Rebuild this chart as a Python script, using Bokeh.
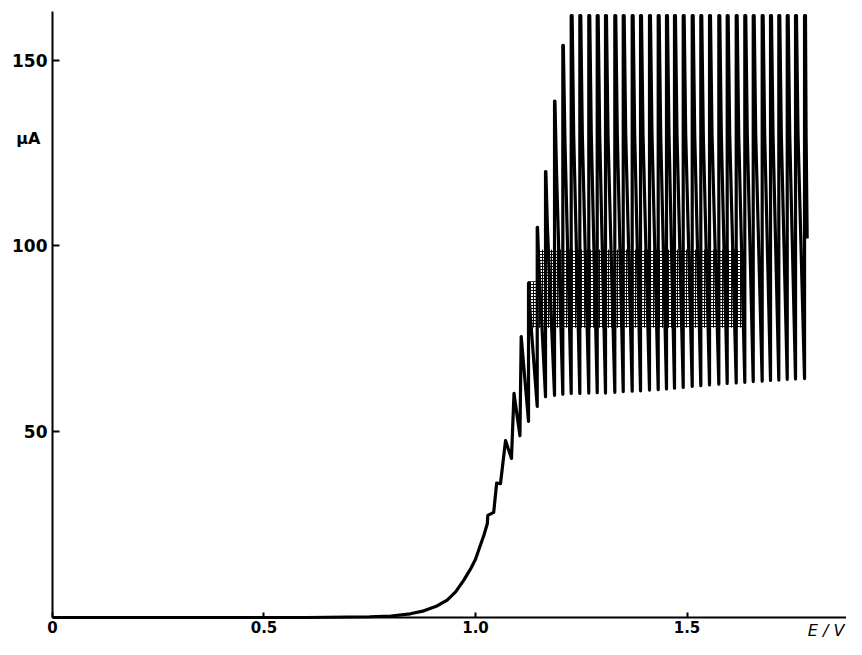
from bokeh.plotting import figure
from bokeh.models import Range1d, FixedTicker, Label
from bokeh.embed import file_html
from bokeh.resources import INLINE

# ---- data (E in V, I in uA) ----
onset_E = [0.0, 0.10, 0.20, 0.40, 0.60, 0.75, 0.80, 0.846, 0.878, 0.909, 0.933, 0.953,
           0.972, 0.988, 1.000, 1.008, 1.020, 1.028, 1.029, 1.043, 1.050, 1.059, 1.071,
           1.085, 1.091, 1.105, 1.108]
onset_I = [0, 0, 0, 0, 0, 0.2, 0.4, 1.0, 1.8, 3.1, 4.7, 6.9,
           10.0, 13.0, 15.7, 18.3, 22.2, 25.3, 27.5, 28.3, 36.2, 36.0, 47.6,
           42.8, 60.3, 48.9, 75.6]

# oscillation region: for each cycle the potential of the sharp rise, the
# current at the trough before it, the spike top, where the top ends, and a
# knee on the falling branch
rise_E = [1.1253, 1.1459, 1.1655, 1.1868, 1.2064, 1.2262, 1.2466, 1.2678, 1.2877,
          1.3073, 1.3293, 1.3492, 1.3704, 1.3901, 1.4113, 1.4319, 1.4515, 1.4704,
          1.4910, 1.5123, 1.5326, 1.5532, 1.5752, 1.5950, 1.6163, 1.6366, 1.6565,
          1.6777, 1.6974, 1.7170, 1.7369, 1.7565, 1.7778]
fall_E = [1.1258, 1.1466, 1.1663, 1.1878, 1.2076, 1.2284, 1.2488, 1.2700, 1.2899,
          1.3095, 1.3315, 1.3514, 1.3726, 1.3923, 1.4135, 1.4341, 1.4537, 1.4726,
          1.4932, 1.5145, 1.5348, 1.5554, 1.5774, 1.5972, 1.6185, 1.6388, 1.6587,
          1.6799, 1.6996, 1.7192, 1.7391, 1.7587, 1.7800]
knee_E = [1.1290, 1.1500, 1.1700, 1.1915, 1.2115, 1.2321, 1.2525, 1.2737, 1.2936,
          1.3132, 1.3352, 1.3551, 1.3763, 1.3960, 1.4172, 1.4378, 1.4574, 1.4763,
          1.4969, 1.5182, 1.5385, 1.5591, 1.5811, 1.6009, 1.6222, 1.6425, 1.6624,
          1.6836, 1.7033, 1.7229, 1.7428, 1.7624, 1.7815]
trough_I = [52.8, 56.8, 59.4, 59.8, 60.1, 60.3, 60.3, 60.4, 60.5, 60.4, 60.6, 60.8,
            60.9, 61.0, 61.2, 61.3, 61.5, 61.7, 61.9, 62.2, 62.4, 62.6, 62.8, 63.0,
            63.1, 63.3, 63.5, 63.6, 63.8, 63.9, 64.1, 64.2, 64.3]
peak_I = [90, 105, 120, 139, 154, 162, 162, 162, 162, 162, 162, 162, 162, 162, 162,
          162, 162, 162, 162, 162, 162, 162, 162, 162, 162, 162, 162, 162, 162, 162,
          162, 162, 162]
knee_I = [82, 94, 105, 120, 128, 130, 130, 130, 130, 130, 130, 130, 130, 130, 130,
          130, 130, 130, 130, 130, 130, 130, 130, 130, 130, 130, 130, 130, 130, 130,
          130, 130, 130]
end_E = [1.7840]
end_I = [102]

# densely written (grey) band of the recorder trace
band_left = [1.124, 1.145]
band_right = [1.145, 1.630]
band_bottom = [78, 78]
band_top = [90.5, 99]

x_ticks = [0, 0.5, 1.0, 1.5]
x_tick_labels = {0: "0", 0.5: "0.5", 1: "1.0", 1.5: "1.5"}
y_ticks = [50, 100, 150]

# ---- build trace ----
E = list(onset_E)
I = list(onset_I)
for re_, fe, ke, tI, pI, kI in zip(rise_E, fall_E, knee_E, trough_I, peak_I, knee_I):
    E += [re_, re_, fe, ke]
    I += [tI, pI, pI, kI]
E += end_E
I += end_I

p = figure(width=846, height=639, x_range=Range1d(-0.1229, 1.877),
           y_range=Range1d(-5.92, 166.04), output_backend="svg",
           toolbar_location=None, min_border=0)
p.outline_line_color = None
p.grid.visible = False
p.background_fill_color = "white"

FONT = "DejaVu Sans"

xa = p.xaxis[0]
xa.fixed_location = 0
xa.bounds = (0, 1.877)
xa.ticker = FixedTicker(ticks=x_ticks)
xa.major_label_overrides = x_tick_labels
xa.major_tick_in = 5
xa.major_tick_out = 0
xa.minor_tick_line_color = None
xa.axis_line_width = 2
xa.major_tick_line_width = 2
xa.major_label_standoff = 3
xa.major_label_text_font = FONT
xa.major_label_text_font_style = "bold"
xa.major_label_text_font_size = "15px"
xa.major_label_text_color = "black"

ya = p.yaxis[0]
ya.fixed_location = 0
ya.bounds = (0, 163.0)
ya.ticker = FixedTicker(ticks=y_ticks)
ya.major_tick_in = 7
ya.major_tick_out = 0
ya.minor_tick_line_color = None
ya.axis_line_width = 2
ya.major_tick_line_width = 2
ya.major_label_standoff = 5
ya.major_label_text_font = FONT
ya.major_label_text_font_style = "bold"
ya.major_label_text_font_size = "17px"
ya.major_label_text_color = "black"

p.quad(left=band_left, right=band_right, bottom=band_bottom, top=band_top,
       fill_alpha=0, line_alpha=0, hatch_pattern="+", hatch_scale=3,
       hatch_weight=1, hatch_color="black", hatch_alpha=0.95)

p.line(E, I, line_color="black", line_width=3.2, line_join="round")

p.add_layout(Label(x=0, y=129, x_offset=-12, text="μA", text_align="right",
                   text_baseline="middle", text_font=FONT, text_font_style="bold",
                   text_font_size="16px", text_color="black"))
p.add_layout(Label(x=1.872, y=0, y_offset=-3, text="E / V", text_align="right",
                   text_baseline="top", text_font=FONT, text_font_style="italic",
                   text_font_size="16px", text_color="black"))

open("out.html", "w").write(file_html(p, INLINE))
